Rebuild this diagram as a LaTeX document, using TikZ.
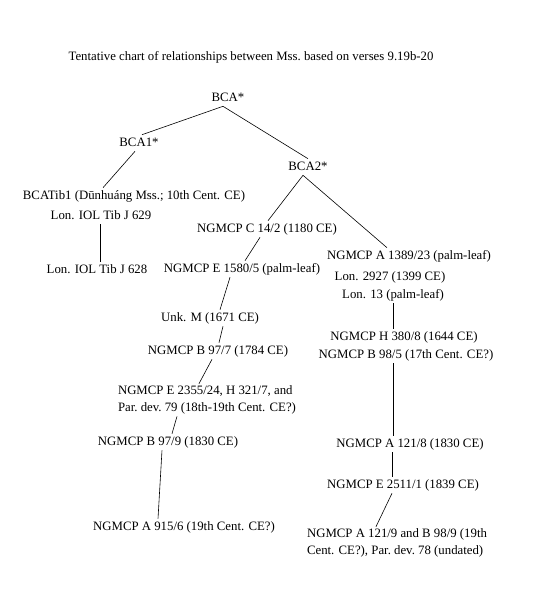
\documentclass[tikz,border=0pt]{standalone}
\usepackage{fontspec}
\setmainfont{Liberation Serif}
\begin{document}
\begin{tikzpicture}[x=1pt,y=-1pt,semithick,
    ms/.style={inner sep=2pt,font=\fontsize{12.8}{15}\selectfont,text height=9pt,text depth=3pt},
    mstwo/.style={inner sep=2pt,font=\fontsize{12.8}{16.5}\selectfont,align=left}]
    \useasboundingbox (0,0) rectangle (540,600);
    \node (title) at (251,57)[ms]{Tentative chart of relationships between Mss.\ based on verses 9.19b-20};
    \node (bca) at (228,98)[ms]{BCA*};
    \node (bcaone) at (139,143)[ms]{BCA1*};
    \node (bcatwo) at (308,167)[ms]{BCA2*};
    \node (tib) at (134,196)[ms]{BCATib1 (Dūnhuáng Mss.; 10th Cent. CE)};
    \node (iolnine) at (101,216)[ms]{Lon. IOL Tib J 629};
    \node (ioleight) at (97,270)[ms]{Lon. IOL Tib J 628};
    \node (cfourteen) at (267,229)[ms]{NGMCP C 14/2 (1180 CE)};
    \node (efifteen) at (242,269)[ms]{NGMCP E 1580/5 (palm-leaf)};
    \node (athirteen) at (409,256)[ms]{NGMCP A 1389/23 (palm-leaf)};
    \node (lontwo) at (390,277)[ms]{Lon. 2927 (1399 CE)};
    \node (lonthirteen) at (393,295)[ms]{Lon. 13 (palm-leaf)};
    \node (unkm) at (210,318)[ms]{Unk. M (1671 CE)};
    \node (hthree) at (404,337)[ms]{NGMCP H 380/8 (1644 CE)};
    \node (bnineseven) at (218,351)[ms]{NGMCP B 97/7 (1784 CE)};
    \node (bnineeight) at (406,355)[ms]{NGMCP B 98/5 (17th Cent. CE?)};
    \node (etwentythree) at (207,400)[mstwo]{NGMCP E 2355/24, H 321/7, and\\Par.\ dev.\ 79 (18th-19th Cent. CE?)};
    \node (bninenine) at (168,442)[ms]{NGMCP B 97/9 (1830 CE)};
    \node (aoneeight) at (410,444)[ms]{NGMCP A 121/8 (1830 CE)};
    \node (etwentyfive) at (403,485)[ms]{NGMCP E 2511/1 (1839 CE)};
    \node (aninefifteen) at (184,527)[ms]{NGMCP A 915/6 (19th Cent. CE?)};
    \node (aonenine) at (397,543)[mstwo]{NGMCP A 121/9 and B 98/9 (19th\\Cent. CE?), Par.\ dev.\ 78 (undated)};
    \draw ([xshift=-5pt]bca.south) -- ([xshift=3pt]bcaone.north);
    \draw ([xshift=-5pt]bca.south) -- (bcatwo.north);
    \draw ([xshift=-4pt]bcaone.south) -- ([xshift=-31pt]tib.north);
    \draw ([xshift=-1pt]iolnine.south) -- ([xshift=3pt]ioleight.north);
    \draw ([xshift=-5pt]bcatwo.south) -- ([xshift=1pt]cfourteen.north);
    \draw ([xshift=-5pt]bcatwo.south) -- ([xshift=-22pt]athirteen.north);
    \draw ([xshift=-7pt]cfourteen.south) -- ([xshift=3pt]efifteen.north);
    \draw ([xshift=-12pt]efifteen.south) -- ([xshift=10pt]unkm.north);
    \draw ([xshift=13pt]unkm.south) -- ([xshift=1pt]bnineseven.north);
    \draw ([xshift=-6pt]bnineseven.south) -- ([xshift=-8pt]etwentythree.north);
    \draw ([xshift=-30pt]etwentythree.south) -- ([xshift=4pt]bninenine.north);
    \draw ([xshift=-6pt]bninenine.south) -- ([xshift=-26pt]aninefifteen.north);
    \draw (lonthirteen.south) -- ([xshift=-11pt]hthree.north);
    \draw ([xshift=-13pt]bnineeight.south) -- ([xshift=-17pt]aoneeight.north);
    \draw ([xshift=-18pt]aoneeight.south) -- ([xshift=-11pt]etwentyfive.north);
    \draw ([xshift=-11pt]etwentyfive.south) -- ([xshift=-21pt]aonenine.north);
\end{tikzpicture}
\end{document}
